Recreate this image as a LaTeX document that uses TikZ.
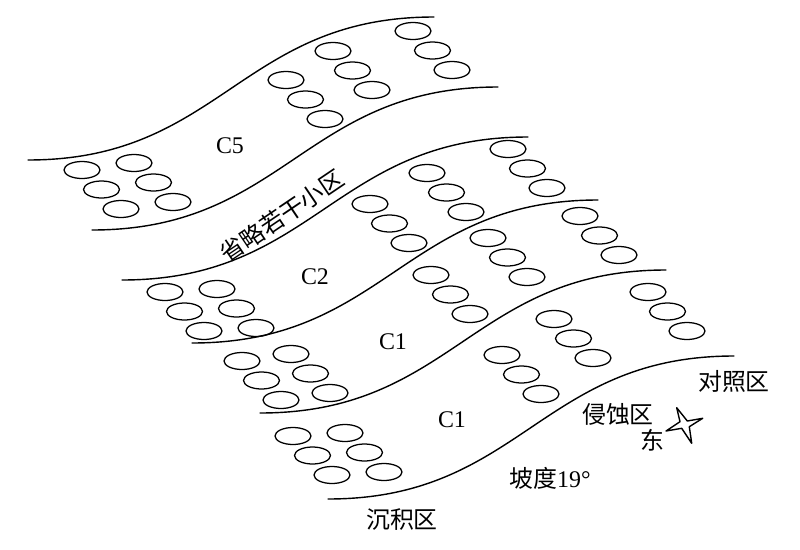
\documentclass[tikz,border=0pt]{standalone}
\usepackage{fontspec}
\setmainfont{Liberation Serif}
\newfontfamily\cjk{Noto Sans CJK SC}
\begin{document}
\begin{tikzpicture}[x=0.25mm, y=-0.25mm, line cap=round, line join=round, line width=1pt, font=\fontsize{17}{20}\selectfont]
	\tikzset{plot hole/.style={line width=0.9pt}, zone label/.style={inner sep=0pt, font=\fontsize{17}{20}\selectfont\cjk}}
	\useasboundingbox (0,0) rectangle (800,549);
	\foreach \x/\y in {28/160, 92/230, 122/280, 192/343, 260/413, 328/499}
		\draw[shift={(\x,\y)}] (0,0) .. controls (193,0) and (213,-143) .. (406,-143);
	\foreach \x/\y in {82/170, 134/163, 286/80, 333/51, 413/31, 165/292, 217/289, 370/204, 427/173, 508/149, 242/361, 291/354, 431/275, 488/238, 580/216, 293/436, 345/433, 502/355, 554/319, 648/292}
		\foreach \k in {0,1,2}
			\draw[plot hole] (\x+19.5*\k, \y+19.5*\k) ellipse [x radius=18, y radius=8.5];
	\node (c5) at (230,146) {C5};
	\node (c2) at (315,277) {C2};
	\node (c1a) at (393,342) {C1};
	\node (c1b) at (452,420) {C1};
	\node[zone label, rotate=34] (omit) at (282,216) {省略若干小区};
	\node[zone label] (ctrl) at (734,381) {对照区};
	\node[zone label] (erosion) at (618,414) {侵蚀区};
	\node[zone label] (east) at (652,440) {东};
	\node[zone label] (slope) at (550,478) {坡度{\rmfamily 19°}};
	\node[zone label] (deposit) at (402,520) {沉积区};
	\draw (676.7,407.7) -- (687.3,421) -- (702.7,418.3) -- (689.3,426.7) -- (691.7,443.3) -- (681.7,428.3) -- (666,431) -- (680,421.7) -- cycle;
\end{tikzpicture}
\end{document}
